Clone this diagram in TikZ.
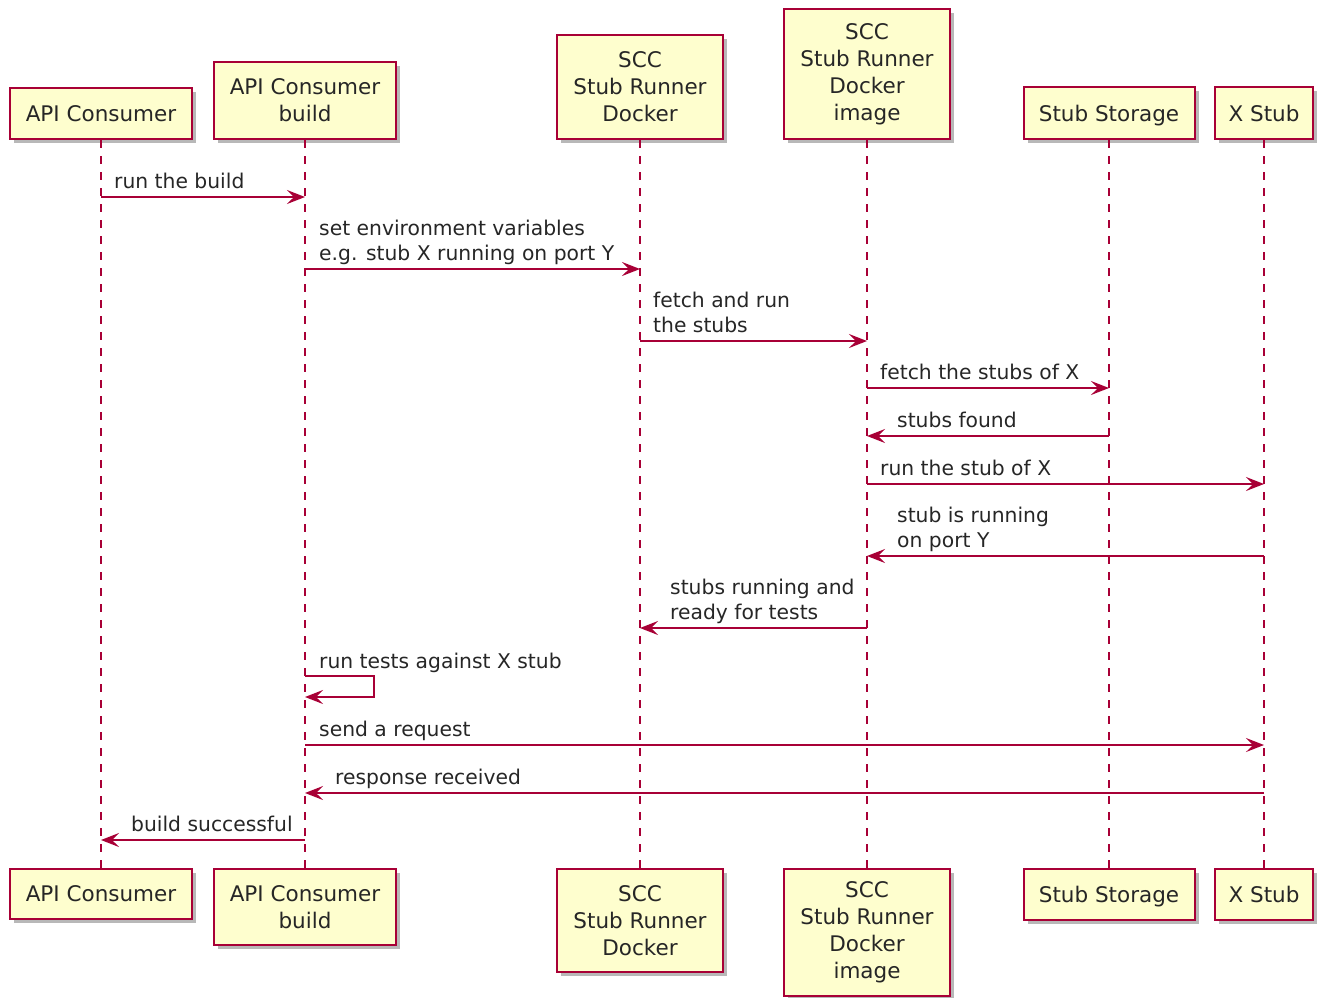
\documentclass[tikz,border=0pt]{standalone}
\usepackage{fontspec}
\setmainfont{DejaVu Sans}
\usetikzlibrary{arrows.meta,shadows}
\definecolor{pborder}{HTML}{A80036}
\definecolor{pfill}{HTML}{FEFECE}
\begin{document}
\begin{tikzpicture}[x=1pt,y=-1pt,
  part/.style={draw=pborder, fill=pfill, line width=2pt, align=center, inner sep=0pt,
    font=\fontsize{21.5}{27}\selectfont, text=black!85,
    drop shadow={shadow xshift=4pt, shadow yshift=-4pt, opacity=0.28, fill=black}},
  life/.style={draw=pborder, line width=1.4pt, dash pattern=on 8pt off 8pt},
  msg/.style={draw=pborder, line width=1.5pt, -{Stealth[length=18pt,width=14pt,inset=7pt]}},
  lbl/.style={anchor=base west, inner sep=0pt, align=left, text=black!85,
    font=\fontsize{20.3}{25}\selectfont}]
\useasboundingbox (0,0) rectangle (1320,997);

% top participants
\node[part, anchor=north, minimum width=182pt, minimum height=51pt] (t1) at (101,87) {API Consumer};
\node[part, anchor=north, minimum width=182pt, minimum height=77pt] (t2) at (305,61) {API Consumer\\build};
\node[part, anchor=north, minimum width=166pt, minimum height=104pt] (t3) at (640,34) {SCC\\Stub Runner\\Docker};
\node[part, anchor=north, minimum width=166pt, minimum height=130pt] (t4) at (867,8) {SCC\\Stub Runner\\Docker\\image};
\node[part, anchor=north, minimum width=171pt, minimum height=52pt] (t5) at (1109,86) {\raisebox{0pt}[\height][0pt]{Stub Storage}};
\node[part, anchor=north, minimum width=98pt, minimum height=52pt] (t6) at (1264,86) {X Stub};

% bottom participants
\node[part, anchor=north, minimum width=182pt, minimum height=50pt] (b1) at (101,868) {API Consumer};
\node[part, anchor=north, minimum width=182pt, minimum height=76pt] (b2) at (305,868) {API Consumer\\build};
\node[part, anchor=north, minimum width=166pt, minimum height=103pt] (b3) at (640,868) {SCC\\Stub Runner\\Docker};
\node[part, anchor=north, minimum width=166pt, minimum height=127pt] (b4) at (867,868) {SCC\\Stub Runner\\Docker\\image};
\node[part, anchor=north, minimum width=171pt, minimum height=51pt] (b5) at (1109,868) {\raisebox{0pt}[\height][0pt]{Stub Storage}};
\node[part, anchor=north, minimum width=98pt, minimum height=51pt] (b6) at (1264,868) {X Stub};

% lifelines
\foreach \i in {1,...,6} { \draw[life] (t\i.south) -- (b\i.north); }

% messages
\draw[msg] (t1.south |- 0,197) -- (t2.south |- 0,197);
\node[lbl] (m1) at (114,188) {run the build};

\draw[msg] (t2.south |- 0,269) -- (t3.south |- 0,269);
\node[lbl] (m2) at (319,260) {set environment variables\\e.g. stub X running on port Y};

\draw[msg] (t3.south |- 0,341) -- (t4.south |- 0,341);
\node[lbl] (m3) at (653,332) {fetch and run\\the stubs};

\draw[msg] (t4.south |- 0,388) -- (t5.south |- 0,388);
\node[lbl] (m4) at (880,379) {fetch the stubs of X};

\draw[msg] (t5.south |- 0,436) -- (t4.south |- 0,436);
\node[lbl] (m5) at (897,427) {stubs found};

\draw[msg] (t4.south |- 0,484) -- (t6.south |- 0,484);
\node[lbl] (m6) at (880,475) {run the stub of X};

\draw[msg] (t6.south |- 0,556) -- (t4.south |- 0,556);
\node[lbl] (m7) at (897,547) {stub is running\\on port Y};

\draw[msg] (t4.south |- 0,628) -- (t3.south |- 0,628);
\node[lbl] (m8) at (670,619) {stubs running and\\ready for tests};

\draw[msg] (t2.south |- 0,676) -- ++(69,0) -- ++(0,21) -- (t2.south |- 0,697);
\node[lbl] (m9) at (319,668) {run tests against X stub};

\draw[msg] (t2.south |- 0,745) -- (t6.south |- 0,745);
\node[lbl] (m10) at (319,736) {send a request};

\draw[msg] (t6.south |- 0,793) -- (t2.south |- 0,793);
\node[lbl] (m11) at (335,784) {response received};

\draw[msg] (t2.south |- 0,840) -- (t1.south |- 0,840);
\node[lbl] (m12) at (131,831) {build successful};
\end{tikzpicture}
\end{document}
